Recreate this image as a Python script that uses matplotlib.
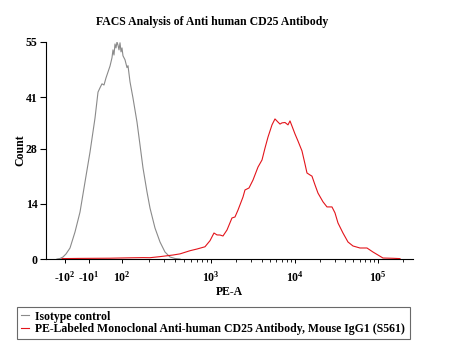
import numpy as np
import matplotlib
matplotlib.use("Agg")
import matplotlib.pyplot as plt

# x is the display channel (0-1024), y is event count
iso_channel = [30.7, 39.1, 47.4, 55.8, 67.0, 80.9, 94.9, 108.8, 122.8, 136.7,
               145.1, 150.7, 156.2, 161.8, 167.4, 173.0, 178.6, 184.1, 186.9, 189.7,
               192.5, 195.3, 198.1, 200.9, 203.7, 206.5, 209.3, 212.0, 214.8, 220.4,
               226.0, 228.8, 234.4, 242.7, 253.9, 262.3, 270.6, 281.8, 290.2, 304.1,
               318.1, 332.0, 346.0, 359.9, 373.9]
iso_count = [0.0, 0.13, 0.51, 1.27, 2.79, 6.84, 11.9, 19.5, 27.1, 35.7,
             42.3, 43.4, 44.4, 44.1, 45.9, 47.4, 48.9, 51.0, 53.0, 51.7,
             54.5, 53.5, 55.0, 54.2, 53.0, 54.8, 52.5, 53.5, 51.5, 50.5,
             48.5, 49.0, 44.9, 40.8, 34.7, 28.9, 23.1, 17.0, 12.9, 7.86,
             4.31, 1.77, 0.51, 0.13, 0.0]

cd25_channel = [44.6, 94.9, 178.6, 234.4, 270.6, 290.2, 318.1, 354.3, 373.9, 401.8,
                421.3, 443.6, 457.6, 468.7, 477.1, 485.5, 493.8, 505.0, 518.9, 527.3,
                535.7, 549.6, 555.2, 566.4, 577.5, 591.5, 602.7, 611.0, 619.4, 630.6,
                638.9, 647.3, 652.9, 658.4, 666.8, 675.2, 680.8, 686.3, 694.7, 703.1,
                714.2, 722.6, 728.2, 736.6, 742.1, 750.5, 758.9, 772.8, 784.0, 797.9,
                806.3, 814.7, 828.6, 842.6, 856.5, 876.1, 895.6, 912.3, 926.3, 940.2,
                968.1, 987.7]
cd25_count = [0.1, 0.15, 0.2, 0.3, 0.35, 0.33, 0.6, 1.01, 1.3, 2.1,
              2.53, 3.1, 4.64, 6.59, 6.1, 6.08, 5.83, 7.35, 10.4, 10.65,
              12.4, 15.7, 17.5, 18.0, 20.0, 23.3, 25.1, 28.1, 30.9, 34.0,
              35.5, 34.7, 34.2, 34.5, 34.6, 34.0, 35.0, 33.7, 31.7, 29.9,
              27.4, 24.1, 21.8, 21.3, 21.0, 18.8, 16.7, 14.5, 13.2, 13.2,
              11.7, 9.13, 6.59, 4.31, 3.30, 2.79, 2.79, 1.77, 1.01, 0.25,
              0.18, 0.1]

x_tick_channels = [53, 120, 212, 460, 695, 926]
x_tick_labels = [r"$\mathbf{\text{-}10^{2}}$", r"$\mathbf{\text{-}10^{1}}$",
                 r"$\mathbf{10^{2}}$", r"$\mathbf{10^{3}}$",
                 r"$\mathbf{10^{4}}$", r"$\mathbf{10^{5}}$"]
y_ticks = [0, 14, 28, 41, 55]

plt.rcParams["font.family"] = "Liberation Serif"
plt.rcParams["mathtext.fontset"] = "custom"
plt.rcParams["mathtext.rm"] = "Liberation Serif:bold"
plt.rcParams["mathtext.bf"] = "Liberation Serif:bold"

fig = plt.figure(figsize=(4.49, 3.54), dpi=100)
ax = fig.add_axes([46 / 449, 1 - 259 / 354, 367 / 449, 217 / 354])

l1, = ax.plot(iso_channel, iso_count, color="#8a8a8a", lw=0.8)
l2, = ax.plot(cd25_channel, cd25_count, color="#e3141b", lw=0.8)

ax.set_xlim(0, 1024)
ax.set_ylim(0, 55)
ax.spines["top"].set_visible(False)
ax.spines["right"].set_visible(False)
for s in ("left", "bottom"):
    ax.spines[s].set_linewidth(0.8)

ax.set_yticks(y_ticks)
ax.set_yticklabels([str(v) for v in y_ticks], fontweight="bold", fontsize=8.5)
ax.set_xticks(x_tick_channels)
ax.set_xticklabels(x_tick_labels, fontsize=8.5)
ax.tick_params(axis="y", length=4, width=0.8, pad=2)
ax.tick_params(axis="x", length=3, width=0.7, pad=5)

# log minor ticks between decades
minors = []
for lo, hi in ((212, 460), (460, 695), (695, 926)):
    minors += [lo + np.log10(k) * (hi - lo) for k in range(2, 10)]
minors += [926 + np.log10(k) * 231 for k in range(2, 3)]
ax.set_xticks(minors, minor=True)
ax.tick_params(axis="x", which="minor", length=2, width=0.6)

ax.set_xlabel("PE-A", fontweight="bold", fontsize=8.5, labelpad=1)
ax.set_ylabel("Count", fontweight="bold", fontsize=8.5, labelpad=0)

fig.text(212 / 449, 1 - 22 / 354, "FACS Analysis of Anti human CD25 Antibody",
         ha="center", va="center", fontweight="bold", fontsize=8.5)

leg = fig.legend([l1, l2],
                 ["Isotype control",
                  "PE-Labeled Monoclonal Anti-human CD25 Antibody, Mouse IgG1 (S561)"],
                 loc="upper left", bbox_to_anchor=(17 / 449, 1 - 307 / 354, 393 / 449, 0.0),
                 mode="expand", frameon=True, fancybox=False, borderpad=0.3,
                 borderaxespad=0.0,
                 handlelength=0.7, handletextpad=0.5, labelspacing=0.05,
                 prop={"weight": "bold", "size": 8.5, "family": "Liberation Serif"})
leg.get_frame().set_edgecolor("#444444")
leg.get_frame().set_linewidth(0.8)

fig.savefig("out.png", dpi=100)
